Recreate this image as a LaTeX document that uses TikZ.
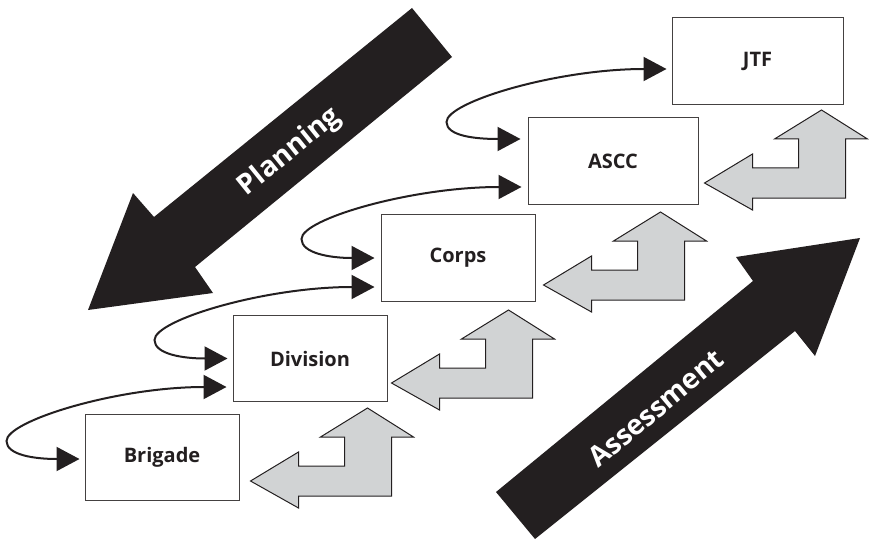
\documentclass[tikz,border=0pt]{standalone}
\usepackage{fontspec}
\setmainfont{Open Sans}
\usetikzlibrary{arrows.meta}
\definecolor{ink}{HTML}{231F20}
\definecolor{greyfill}{HTML}{D1D3D4}
\tikzstyle{echelon}=[draw=ink!85, line width=1pt, minimum height=86.5pt, inner sep=0pt, text=ink, font=\bfseries\fontsize{20}{24}\selectfont]
\tikzstyle{bigword}=[text=white, inner sep=0pt, font=\bfseries\fontsize{28}{33}\selectfont]
\tikzset{handover/.style={ink, line width=2pt,
      {Triangle[length=23pt,width=24pt]}-{Triangle[length=23pt,width=24pt]}}}
\tikzset{feedback/.pic={
      \draw[draw=ink, fill=greyfill, line width=1pt]
        (0,0) -- (48,-29) -- (48,-15) -- (94,-15) -- (94,-44) -- (70,-44) -- (117,-73)
        -- (163,-44) -- (141,-44) -- (141,15) -- (48,15) -- (48,27) -- cycle;}}

\begin{document}
\begin{tikzpicture}[x=1pt, y=-1pt]
		\useasboundingbox (0,0) rectangle (869,540);
		% big arrows
		\fill[ink] (412,8) -- (452,57) -- (195,267) -- (213,293) -- (88,310) -- (133,193) -- (154,217) -- cycle;
		\node[bigword, rotate=39] (plan) at (290,152) {Planning};
		\fill[ink] (496,492) -- (753,281) -- (736,257) -- (860,238) -- (815,356) -- (795,331) -- (535,539) -- cycle;
		\node[bigword, rotate=40] (assess) at (656,408) {Assessment};
		% echelons
		\node[echelon, minimum width=154pt] (brig) at (162,457.5) {Brigade};
		\node[echelon, minimum width=154pt] (div) at (310,358.5) {Division};
		\node[echelon, minimum width=154pt] (corps) at (458,258) {Corps};
		\node[echelon, minimum width=170pt] (ascc) at (613,161) {ASCC};
		\node[echelon, minimum width=171pt] (jtf) at (757.5,61) {JTF};
		% planning hand-over
		\draw[handover] ([xshift=-5pt,yshift=-8pt]jtf.west) .. controls +(-110,0) and +(0,-20) .. ++(-220,53)
			.. controls +(0,14) and +(-45,0) .. ([xshift=-7pt,yshift=22pt]ascc.west);
		\draw[handover] ([xshift=-6pt,yshift=-26pt]ascc.west) .. controls +(-110,0) and +(0,-20) .. ++(-220,52)
			.. controls +(0,14) and +(-45,0) .. ([xshift=-6pt]corps.west);
		\draw[handover] ([xshift=-6pt,yshift=-29pt]corps.west) .. controls +(-110,0) and +(0,-20) .. ++(-220,53)
			.. controls +(0,14) and +(-45,0) .. ([xshift=-5pt]div.west);
		\draw[handover] ([xshift=-6pt,yshift=-28.5pt]div.west) .. controls +(-110,0) and +(0,-20) .. ++(-220,54)
			.. controls +(0,14) and +(-45,0) .. ([xshift=-5pt,yshift=-1.5pt]brig.west);
		% assessment feedback
		\pic at ([xshift=11pt,yshift=-23.5pt]brig.east) {feedback};
		\pic at ([xshift=4pt,yshift=-24.5pt]div.east) {feedback};
		\pic at ([xshift=8pt,yshift=-27pt]corps.east) {feedback};
		\pic at ([xshift=6pt,yshift=-22pt]ascc.east) {feedback};
\end{tikzpicture}
\end{document}
